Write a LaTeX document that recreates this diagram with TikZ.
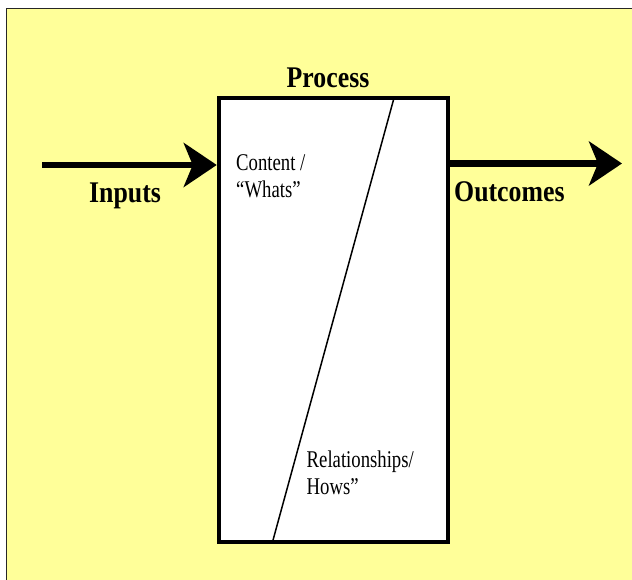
\documentclass[tikz,border=0pt]{standalone}
\usepackage{fontspec}
\setmainfont{Liberation Serif}
\newfontfamily\boldlab[FakeStretch=0.86]{Liberation Serif}
\newfontfamily\smalllab[FakeStretch=0.78]{Liberation Serif}
\usetikzlibrary{arrows.meta}
\definecolor{bgyellow}{HTML}{FFFF99}
\tikzset{
  x=1pt,y=1pt,
  bigarrow/.style={line width=6.5pt,-{Stealth[length=33pt,width=44pt,inset=9pt]}},
  boldlabel/.style={inner sep=0pt,font=\boldlab\bfseries\fontsize{30}{30}\selectfont},
  smalllabel/.style={inner sep=0pt,align=left,font=\smalllab\fontsize{24}{24}\selectfont},
  procbox/.style={draw=black,fill=white,line width=4.5pt,minimum width=229pt,minimum height=444pt,inner sep=0pt}
}
\begin{document}
\begin{tikzpicture}
\useasboundingbox (0,0) rectangle (632,580);
\fill[bgyellow] (6.5,0) rectangle (640,571.5);
\draw[line width=1.5pt,black!85] (6.5,-5) -- (6.5,571.5) -- (640,571.5);
% process box
\node[procbox] (box) at (333.5,260) {};
\coordinate (dtop) at (394,482);
\coordinate (dbot) at (272.5,38);
\draw[line width=1.5pt] (dtop) -- (dbot);
% labels
\node[boldlabel,anchor=base] (proc) at (328,492.5) {Process};
\node[boldlabel,anchor=base west] (inp) at (89,377.5) {Inputs};
\node[boldlabel,anchor=base west] (outc) at (454,378) {Outcomes};
\node[smalllabel,anchor=base west] (cont) at (236,409) {Content /};
\node[smalllabel,anchor=base west] (what) at (236,382) {“Whats”};
\node[smalllabel,anchor=base west] (rel) at (306.5,112) {Relationships/};
\node[smalllabel,anchor=base west] (hows) at (306.5,85) {Hows”};
% arrows
\coordinate (inS) at (42,415);
\coordinate (outE) at (622,416.5);
\draw[bigarrow] (inS) -- (inS -| box.west);
\draw[bigarrow] (box.east |- outE) -- (outE);
\end{tikzpicture}
\end{document}
